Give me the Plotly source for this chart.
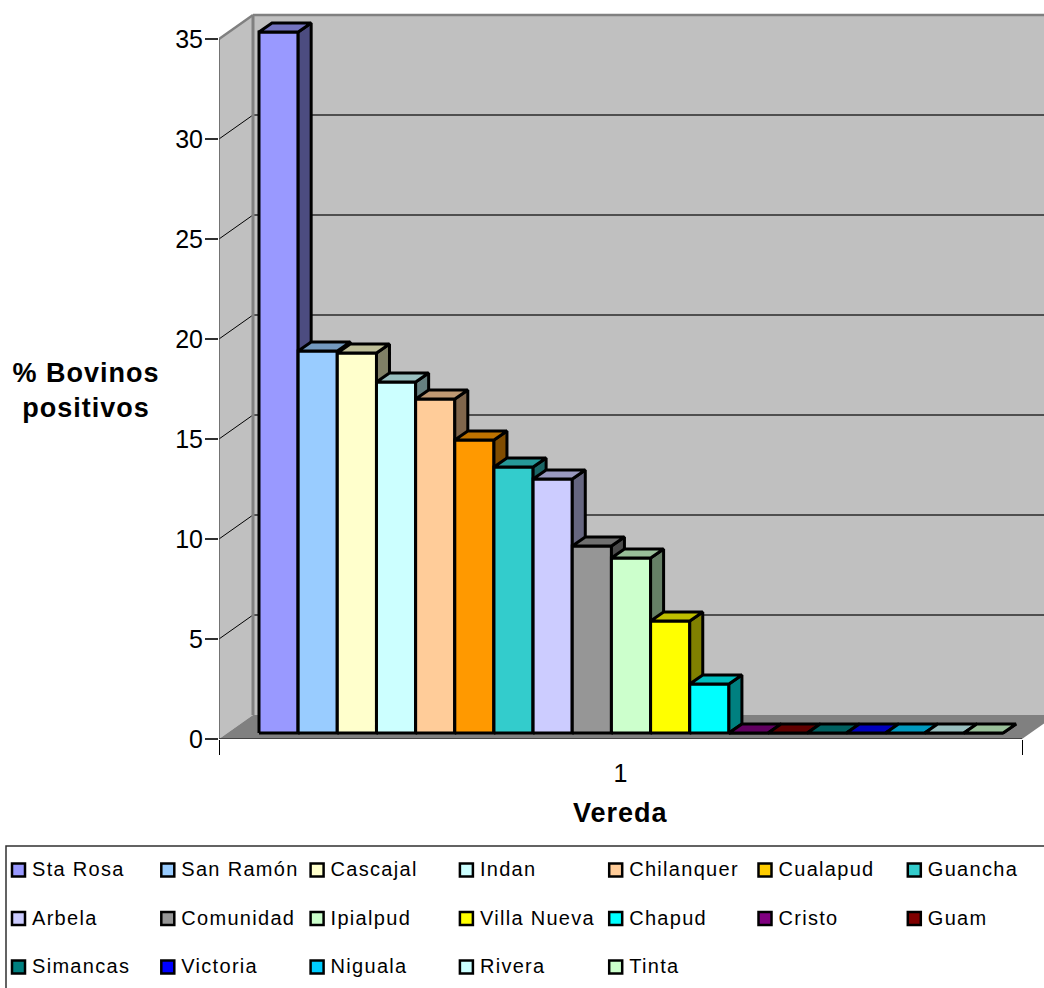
import plotly.graph_objects as go

# Share of positive cattle per vereda
veredas = ["Sta Rosa", "San Ramón", "Cascajal", "Indan", "Chilanquer", "Cualapud", "Guancha",
           "Arbela", "Comunidad", "Ipialpud", "Villa Nueva", "Chapud", "Cristo", "Guam",
           "Simancas", "Victoria", "Niguala", "Rivera", "Tinta"]
porcentajes = [35.05, 19.1, 19.0, 17.55, 16.7, 14.65, 13.3, 12.7, 9.35, 8.75, 5.6, 2.45,
               0, 0, 0, 0, 0, 0, 0]
colores = ["#9999FF", "#99CCFF", "#FFFFCC", "#CCFFFF", "#FFCC99", "#FF9900", "#33CCCC",
           "#CCCCFF", "#969696", "#CCFFCC", "#FFFF00", "#00FFFF", "#800080", "#800000",
           "#008080", "#0000FF", "#00CCFF", "#CCFFFF", "#CCFFCC"]
colores_leyenda = ["#9999FF", "#99CCFF", "#FFFFCC", "#CCFFFF", "#FFCC99", "#FFCC00", "#33CCCC",
                   "#CCCCFF", "#969696", "#CCFFCC", "#FFFF00", "#00FFFF", "#800080", "#800000",
                   "#008080", "#0000FF", "#00CCFF", "#CCFFFF", "#CCFFCC"]
y_ticks = [0, 5, 10, 15, 20, 25, 30, 35]

W, H = 1044, 988
AX_L, AX_R, AX_T, AX_B = 219, 1022, 12, 739
PX_X = 1 / (AX_R - AX_L)   # x units per pixel: the single category spans 0.5..1.5
PX_Y = 1 / 20              # y units per pixel


def shade(color, k):
    r, g, b = (int(color[i:i + 2], 16) for i in (1, 3, 5))
    return f"rgb({round(r * k)},{round(g * k)},{round(b * k)})"


X0 = 0.5
WALL_DX, WALL_DY = 34 * PX_X, 24 * PX_Y
X_MAX = X0 + (W - AX_L) * PX_X
Y_MAX = (AX_B - AX_T) * PX_Y
Y_TOP = max(y_ticks)

BAR_W = 39.16 * PX_X
BAR_X0 = X0 + 40 * PX_X
BAR_Y0 = 6 * PX_Y
DEPTH_X, DEPTH_Y = 13 * PX_X, 9 * PX_Y
OUTLINE = dict(color="#000000", width=3)

fig = go.Figure()


def face(xs, ys, fill):
    fig.add_trace(go.Scatter(x=xs + xs[:1], y=ys + ys[:1], mode="lines", fill="toself",
                             fillcolor=fill, line=OUTLINE, hoverinfo="skip", showlegend=False))


# Each column is three faces, painted left to right so nearer faces overlap
for i, (valor, color) in enumerate(zip(porcentajes, colores)):
    xl = BAR_X0 + i * BAR_W
    xr = xl + BAR_W
    yb = BAR_Y0
    yt = BAR_Y0 + valor
    face([xl, xr, xr, xl], [yb, yb, yt, yt], color)
    face([xr, xr + DEPTH_X, xr + DEPTH_X, xr], [yb, yb + DEPTH_Y, yt + DEPTH_Y, yt], shade(color, 0.5))
    face([xl, xr, xr + DEPTH_X, xl + DEPTH_X], [yt, yt, yt + DEPTH_Y, yt + DEPTH_Y], shade(color, 0.75))

# Legend grid on a page-sized second axis pair
LEG_X0, LEG_DX = 18.5, 149.3
LEG_Y0, LEG_DY = 870, 48.5
LEG_COLS = 7
LEG_TEXT_GAP = 13.5
leg_x = [LEG_X0 + (i % LEG_COLS) * LEG_DX for i in range(len(veredas))]
leg_y = [LEG_Y0 + (i // LEG_COLS) * LEG_DY for i in range(len(veredas))]
fig.add_trace(go.Scatter(
    x=leg_x, y=leg_y, xaxis="x2", yaxis="y2", mode="markers",
    marker=dict(symbol="square", size=13, color=colores_leyenda, line=dict(color="#000000", width=2.5)),
    hoverinfo="skip", showlegend=False, cliponaxis=False))
fig.add_trace(go.Scatter(
    x=[x + LEG_TEXT_GAP for x in leg_x], y=[y + 1 for y in leg_y], xaxis="x2", yaxis="y2", mode="text",
    text=veredas, textposition="middle right",
    textfont=dict(family="Liberation Sans", size=20, color="#000000"),
    hoverinfo="skip", showlegend=False, cliponaxis=False))

shapes = []


def poly(points, fill, layer="below"):
    path = "M" + "L".join(f"{x},{y}" for x, y in points) + "Z"
    shapes.append(dict(type="path", path=path, xref="x", yref="y", fillcolor=fill,
                       line=dict(width=0), layer=layer))


def seg(x0, y0, x1, y1, color, width):
    shapes.append(dict(type="line", x0=x0, y0=y0, x1=x1, y1=y1, xref="x", yref="y",
                       line=dict(color=color, width=width), layer="below"))


X_END = X0 + 1
# Back wall, side wall and floor
poly([(X0 + WALL_DX, WALL_DY), (X_END + WALL_DX, WALL_DY), (X_END + WALL_DX, Y_TOP + WALL_DY),
      (X0 + WALL_DX, Y_TOP + WALL_DY)], "#C0C0C0")
poly([(X0, 0), (X0 + WALL_DX, WALL_DY), (X0 + WALL_DX, Y_TOP + WALL_DY), (X0, Y_TOP)], "#C0C0C0")
poly([(X0, 0), (X_END, 0), (X_END + WALL_DX, WALL_DY), (X0 + WALL_DX, WALL_DY)], "#808080")

# Grid lines bend from the side wall onto the back wall
for t in y_ticks[1:-1]:
    seg(X0, t, X0 + WALL_DX, t + WALL_DY, "#000000", 1)
    seg(X0 + WALL_DX, t + WALL_DY, X_END + WALL_DX, t + WALL_DY, "#2a2a2a", 1.5)

# Wall outlines
seg(X0, Y_TOP, X0 + WALL_DX, Y_TOP + WALL_DY, "#808080", 2.5)
seg(X0 + WALL_DX, Y_TOP + WALL_DY, X_END + WALL_DX, Y_TOP + WALL_DY, "#808080", 2.5)
seg(X0 + WALL_DX, WALL_DY, X0 + WALL_DX, Y_TOP + WALL_DY, "#808080", 3)
seg(X0, 0, X0, Y_TOP, "#5a5a5a", 1.5)
seg(X0, 0, X_END, 0, "#303030", 1.5)

# Legend frame, running off the page on the right and at the bottom
shapes.append(dict(type="rect", xref="paper", yref="paper", x0=6 / W, x1=1.02,
                   y0=-0.02, y1=1 - 846 / H, line=dict(color="#303030", width=1.5)))

fig.update_layout(
    width=W, height=H,
    margin=dict(l=0, r=0, t=0, b=0),
    paper_bgcolor="#FFFFFF", plot_bgcolor="rgba(0,0,0,0)",
    font=dict(family="Liberation Sans", color="#000000"),
    showlegend=False,
    shapes=shapes,
    xaxis=dict(domain=[AX_L / W, 1], range=[X0, X_MAX], tickvals=[1], ticktext=["1"], ticks="",
               tickfont=dict(size=25), ticklabelstandoff=17, showgrid=False, zeroline=False,
               showline=False, fixedrange=True, automargin=False,
               minor=dict(tickvals=[X0, X_END], ticks="outside", ticklen=15, tickwidth=1,
                          tickcolor="#000000", showgrid=False)),
    yaxis=dict(domain=[1 - AX_B / H, 1 - AX_T / H], range=[0, Y_MAX], tickvals=y_ticks,
               ticks="outside", ticklen=13, tickwidth=1.5, tickcolor="#303030",
               tickfont=dict(size=25), ticklabelstandoff=-3, showgrid=False, zeroline=False,
               showline=False, fixedrange=True, automargin=False),
    xaxis2=dict(domain=[0, 1], range=[0, W], visible=False, anchor="y2", fixedrange=True),
    yaxis2=dict(domain=[0, 1], range=[H, 0], visible=False, anchor="x2", fixedrange=True),
    annotations=[
        dict(text="<b>% Bovinos<br>positivos</b>", xref="paper", yref="paper",
             x=86 / W, y=1 - 390 / H, xanchor="center", yanchor="middle", showarrow=False,
             font=dict(size=27), align="center"),
        dict(text="<b>Vereda</b>", xref="paper", yref="paper",
             x=620.5 / W, y=1 - 813 / H, xanchor="center", yanchor="middle", showarrow=False,
             font=dict(size=27)),
    ],
)

# Wider tracking on the legend entries and the titles
spacing = """
document.querySelectorAll('.textpoint text').forEach(function(t){t.style.letterSpacing='1.3px';});
document.querySelectorAll('.annotation-text').forEach(function(t){t.style.letterSpacing='1px';});
"""
fig.write_html("out.html", config={"displayModeBar": False}, post_script=spacing)
